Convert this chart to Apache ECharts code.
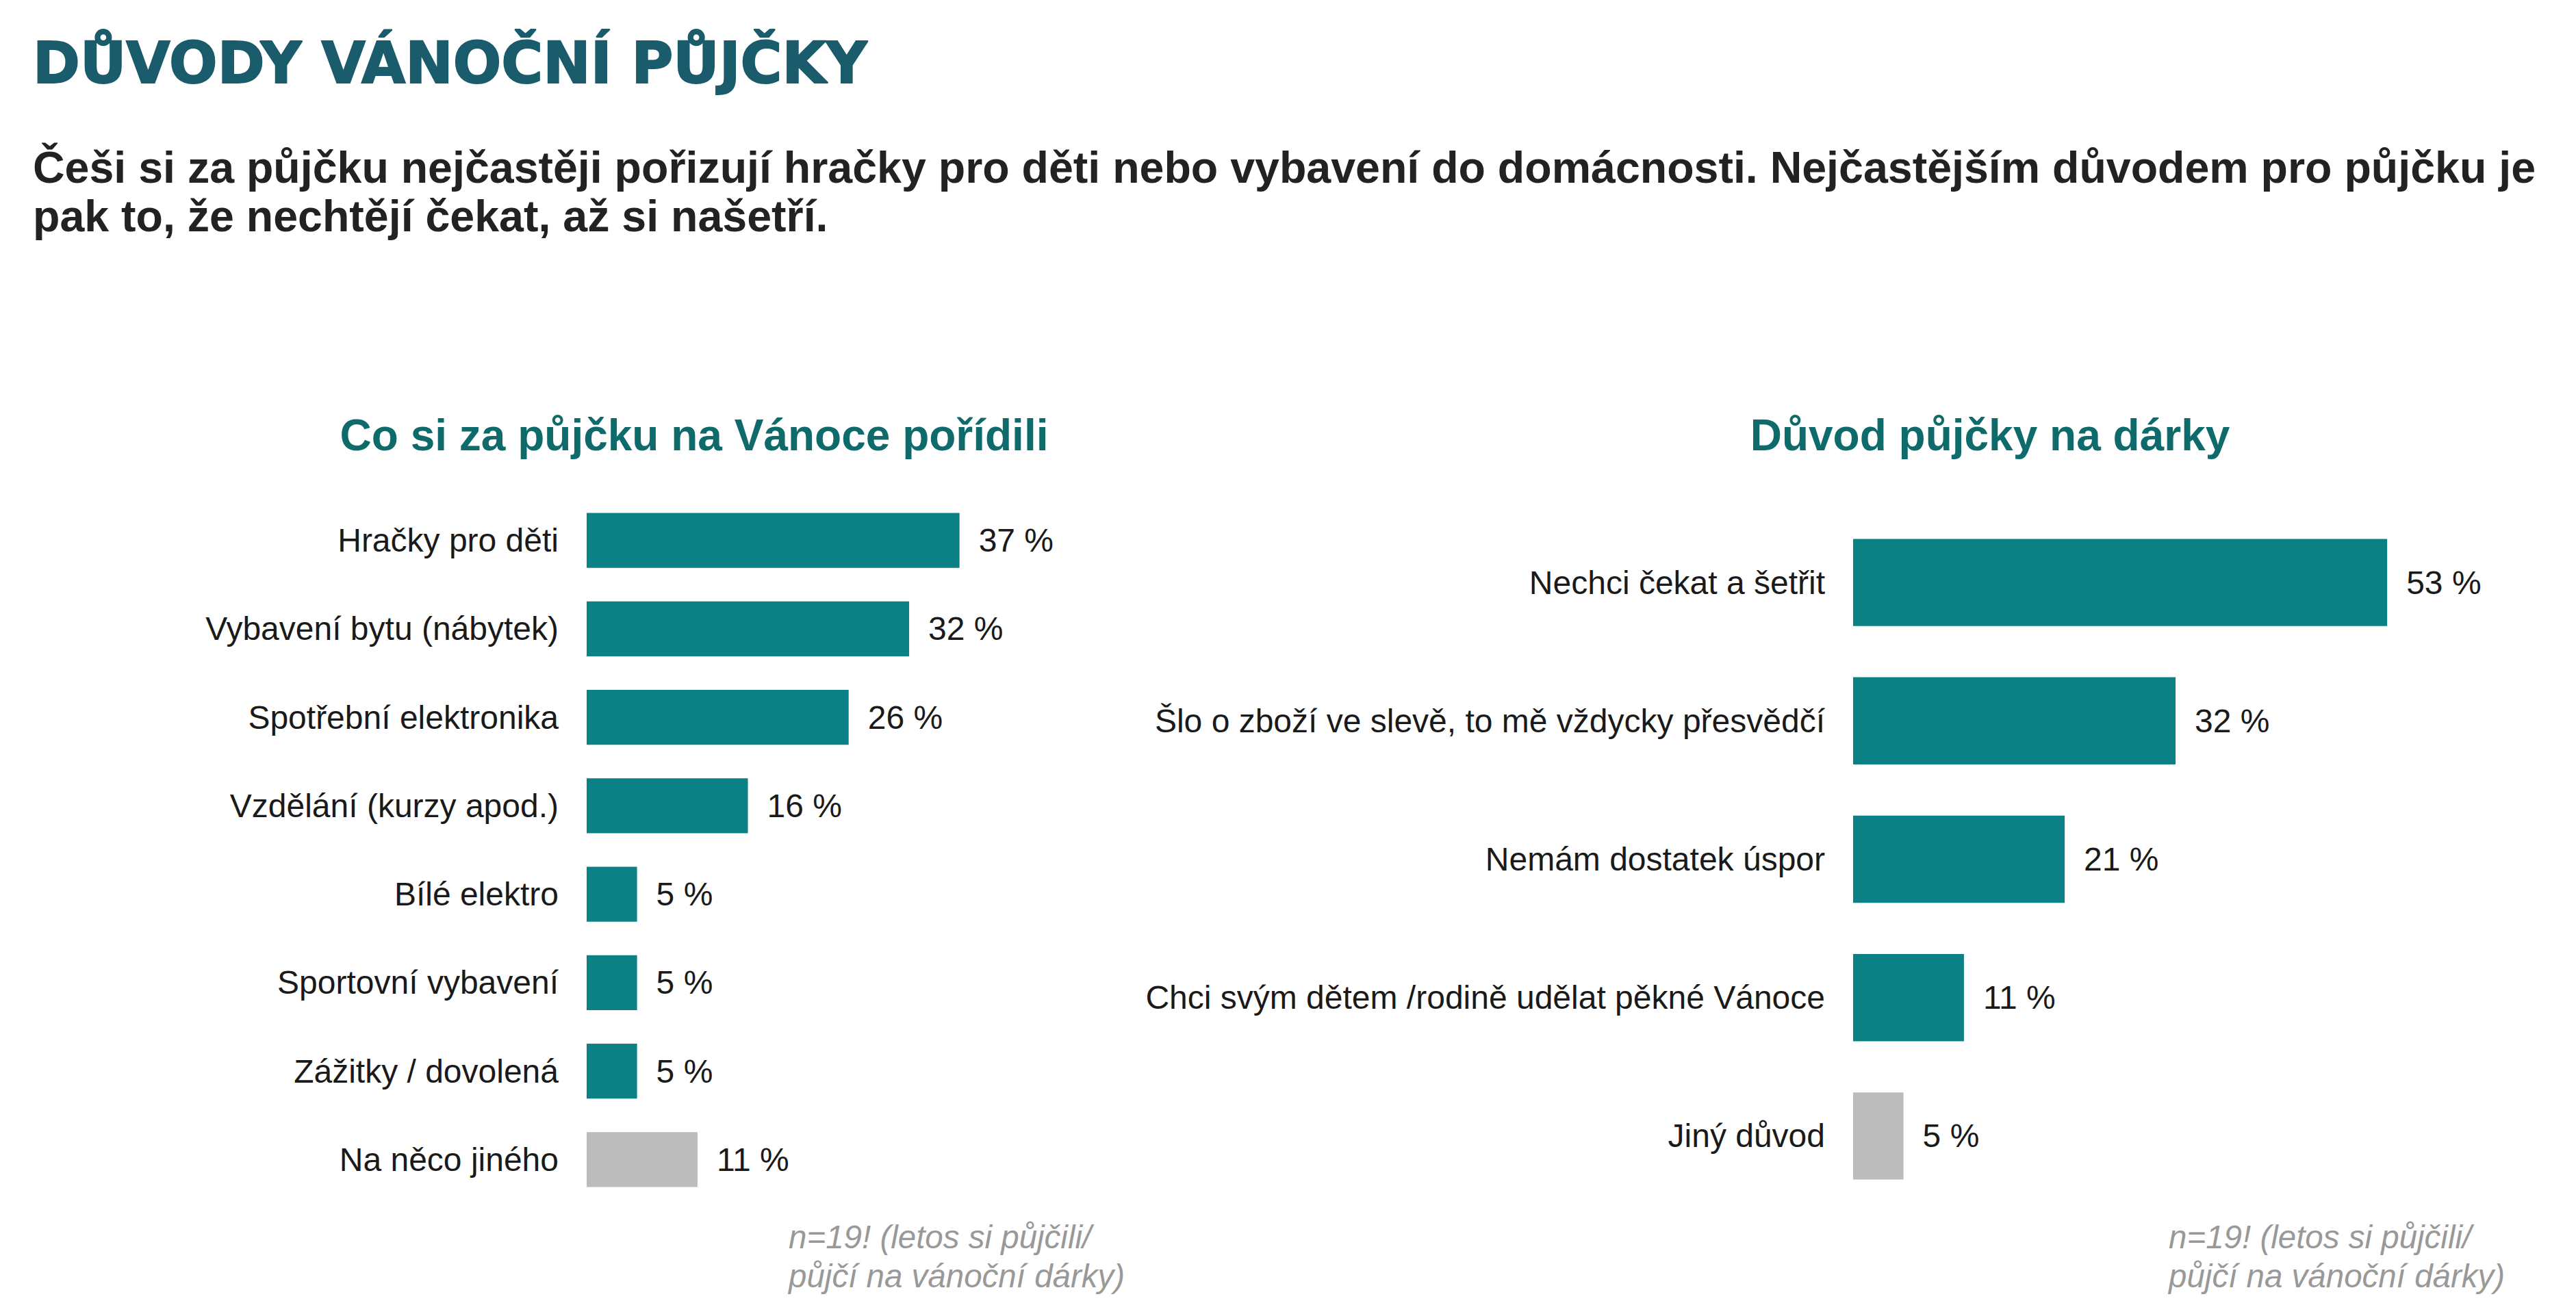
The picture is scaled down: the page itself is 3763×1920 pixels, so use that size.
<!DOCTYPE html>
<html>
<head>
<meta charset="utf-8">
<script src="https://cdn.jsdelivr.net/npm/echarts@6/dist/echarts.min.js"></script>
<style>
html,body{margin:0;padding:0;background:#fff;}
#chart{width:3763px;height:1920px;}
</style>
</head>
<body>
<div id="chart"></div>
<script>
const mainTitle = 'DŮVODY VÁNOČNÍ PŮJČKY';
const subtitleLines = [
  'Češi si za půjčku nejčastěji pořizují hračky pro děti nebo vybavení do domácnosti. Nejčastějším důvodem pro půjčku je',
  'pak to, že nechtějí čekat, až si našetří.'
];
const leftTitle = 'Co si za půjčku na Vánoce pořídili';
const rightTitle = 'Důvod půjčky na dárky';
const footnoteLines = ['n=19! (letos si půjčili/', 'půjčí na vánoční dárky)'];

const leftCategories = ['Hračky pro děti','Vybavení bytu (nábytek)','Spotřební elektronika','Vzdělání (kurzy apod.)','Bílé elektro','Sportovní vybavení','Zážitky / dovolená','Na něco jiného'];
const leftValues = [37, 32, 26, 16, 5, 5, 5, 11];
const leftIsOther = [false, false, false, false, false, false, false, true];

const rightCategories = ['Nechci čekat a šetřit','Šlo o zboží ve slevě, to mě vždycky přesvědčí','Nemám dostatek úspor','Chci svým dětem /rodině udělat pěkné Vánoce','Jiný důvod'];
const rightValues = [53, 32, 21, 11, 5];
const rightIsOther = [false, false, false, false, true];

const TEAL = '#0b8185';
const GRAY = '#bcbcbc';
const FONT = '"Liberation Sans", Arial, sans-serif';

function buildData(values, other) {
  return values.map((v, i) => ({ value: v, itemStyle: { color: other[i] ? GRAY : TEAL } }));
}

const chart = echarts.init(document.getElementById('chart'), null, { renderer: 'svg' });

const catAxisCommon = {
  type: 'category',
  inverse: true,
  axisLine: { show: false },
  axisTick: { show: false },
  splitLine: { show: false },
  axisLabel: { color: '#1a1a1a', fontSize: 48, fontFamily: FONT, margin: 41 }
};
const valAxisCommon = {
  type: 'value',
  min: 0,
  show: false,
  splitLine: { show: false }
};
const labelCommon = {
  show: true,
  position: 'right',
  distance: 28,
  formatter: '{c} %',
  color: '#1a1a1a',
  fontSize: 48,
  fontFamily: FONT
};

const option = {
  backgroundColor: '#ffffff',
  animation: false,
  grid: [
    { left: 857, top: 725, width: 50 * 14.72, height: 1034 },
    { left: 2707, top: 750, width: 60 * 14.72, height: 1011 }
  ],
  xAxis: [
    Object.assign({ gridIndex: 0, max: 50 }, valAxisCommon),
    Object.assign({ gridIndex: 1, max: 60 }, valAxisCommon)
  ],
  yAxis: [
    Object.assign({}, catAxisCommon, { gridIndex: 0, data: leftCategories }),
    Object.assign({}, catAxisCommon, { gridIndex: 1, data: rightCategories })
  ],
  series: [
    {
      type: 'bar', xAxisIndex: 0, yAxisIndex: 0,
      data: buildData(leftValues, leftIsOther),
      barCategoryGap: '38%',
      label: labelCommon
    },
    {
      type: 'bar', xAxisIndex: 1, yAxisIndex: 1,
      data: buildData(rightValues, rightIsOther),
      barCategoryGap: '37%',
      label: labelCommon
    }
  ],
  graphic: [
    { type: 'text', x: 48, y: 92, style: { text: mainTitle, fill: '#1a5b6c', stroke: '#1a5b6c', lineWidth: 2,
      font: 'bold 83px "DejaVu Sans", sans-serif', textAlign: 'left', textVerticalAlign: 'middle' } },
    { type: 'text', x: 48, y: 245, style: { text: subtitleLines[0], fill: '#222222',
      font: 'bold 64.5px ' + FONT, textAlign: 'left', textVerticalAlign: 'middle' } },
    { type: 'text', x: 48, y: 316, style: { text: subtitleLines[1], fill: '#222222',
      font: 'bold 64.5px ' + FONT, textAlign: 'left', textVerticalAlign: 'middle' } },
    { type: 'text', x: 1014, y: 636, style: { text: leftTitle, fill: '#0f6b6b',
      font: 'bold 64px ' + FONT, textAlign: 'center', textVerticalAlign: 'middle' } },
    { type: 'text', x: 2907, y: 636, style: { text: rightTitle, fill: '#0f6b6b',
      font: 'bold 64px ' + FONT, textAlign: 'center', textVerticalAlign: 'middle' } },
    { type: 'text', x: 1152, y: 1807, style: { text: footnoteLines[0], fill: '#999999',
      font: 'italic 47.5px ' + FONT, textAlign: 'left', textVerticalAlign: 'middle' } },
    { type: 'text', x: 1152, y: 1864, style: { text: footnoteLines[1], fill: '#999999',
      font: 'italic 47.5px ' + FONT, textAlign: 'left', textVerticalAlign: 'middle' } },
    { type: 'text', x: 3168, y: 1807, style: { text: footnoteLines[0], fill: '#999999',
      font: 'italic 47.5px ' + FONT, textAlign: 'left', textVerticalAlign: 'middle' } },
    { type: 'text', x: 3168, y: 1864, style: { text: footnoteLines[1], fill: '#999999',
      font: 'italic 47.5px ' + FONT, textAlign: 'left', textVerticalAlign: 'middle' } }
  ]
};
chart.setOption(option);
</script>
</body>
</html>
